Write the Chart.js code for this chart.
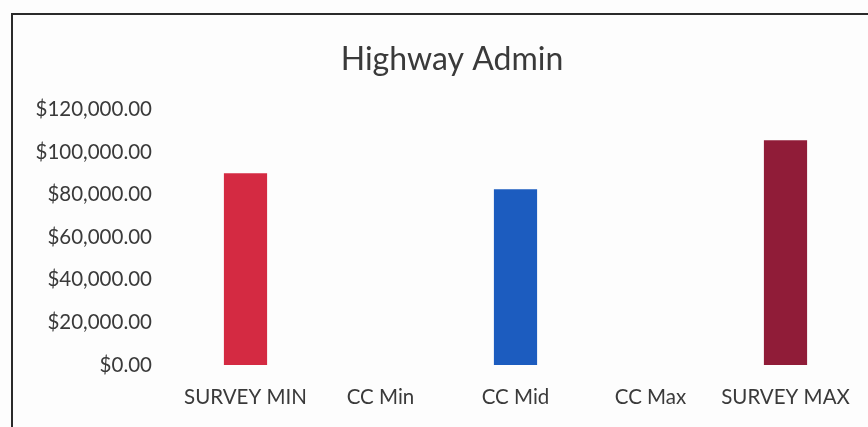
<!DOCTYPE html>
<html>
<head>
<meta charset="utf-8">
<script src="https://cdn.jsdelivr.net/npm/chart.js@4.4.1/dist/chart.umd.min.js"></script>
<style>
  html, body { margin: 0; padding: 0; background: #fdfdfd; }
  #wrap { position: relative; width: 868px; height: 427px; overflow: hidden; }
  #frame { position: absolute; left: 11px; top: 13px; width: 900px; height: 460px;
           border-left: 2px solid #2a2a2a; border-top: 2px solid #2a2a2a; box-sizing: border-box; }
  canvas { position: absolute; left: 0; top: 0; }
</style>
</head>
<body>
<div id="wrap">
  <div id="frame"></div>
  <canvas id="c" width="904" height="427"></canvas>
</div>
<script>
const chartTitle = "Highway Admin";
const categories = ["SURVEY MIN", "CC Min", "CC Mid", "CC Max", "SURVEY MAX"];
const salaryValues = [90000, null, 82500, null, 105500];
const barColors = ["#D42A42", "#D42A42", "#1C5CBF", "#1C5CBF", "#901C38"];
const yTickValues = [0, 20000, 40000, 60000, 80000, 100000, 120000];

const textColor = "#3a3a3a";
const fontFamily = "Lato, 'Liberation Sans', sans-serif";

new Chart(document.getElementById("c"), {
  type: "bar",
  data: {
    labels: categories,
    datasets: [{
      data: salaryValues,
      backgroundColor: barColors,
      borderWidth: 0,
      barPercentage: 0.32,
      categoryPercentage: 1.0
    }]
  },
  options: {
    responsive: false,
    animation: false,
    layout: { padding: 0 },
    plugins: {
      legend: { display: false },
      tooltip: { enabled: false },
      title: {
        display: true,
        text: chartTitle,
        color: textColor,
        font: { family: fontFamily, size: 32, weight: "normal", lineHeight: 1.2 },
        padding: { top: 40, bottom: 31 }
      }
    },
    scales: {
      x: {
        grid: { display: false, drawTicks: false },
        border: { display: false },
        afterFit: (scale) => { scale.height = 62; },
        ticks: {
          color: textColor,
          font: { family: fontFamily, size: 20.5 },
          padding: 20,
          maxRotation: 0,
          autoSkip: false
        }
      },
      y: {
        min: 0,
        max: 120000,
        afterBuildTicks: (scale) => { scale.ticks = yTickValues.map(v => ({ value: v })); },
        afterFit: (scale) => { scale.width = 178; },
        grid: { display: false, drawTicks: false },
        border: { display: false },
        ticks: {
          color: textColor,
          font: { family: fontFamily, size: 20.5 },
          padding: 26,
          callback: (v) => "$" + Number(v).toLocaleString("en-US", { minimumFractionDigits: 2, maximumFractionDigits: 2 })
        }
      },
      spacer: {
        type: "linear",
        position: "right",
        display: true,
        grid: { display: false, drawTicks: false },
        border: { display: false },
        ticks: { display: false },
        afterFit: (scale) => { scale.width = 51; }
      }
    }
  }
});
</script>
</body>
</html>
